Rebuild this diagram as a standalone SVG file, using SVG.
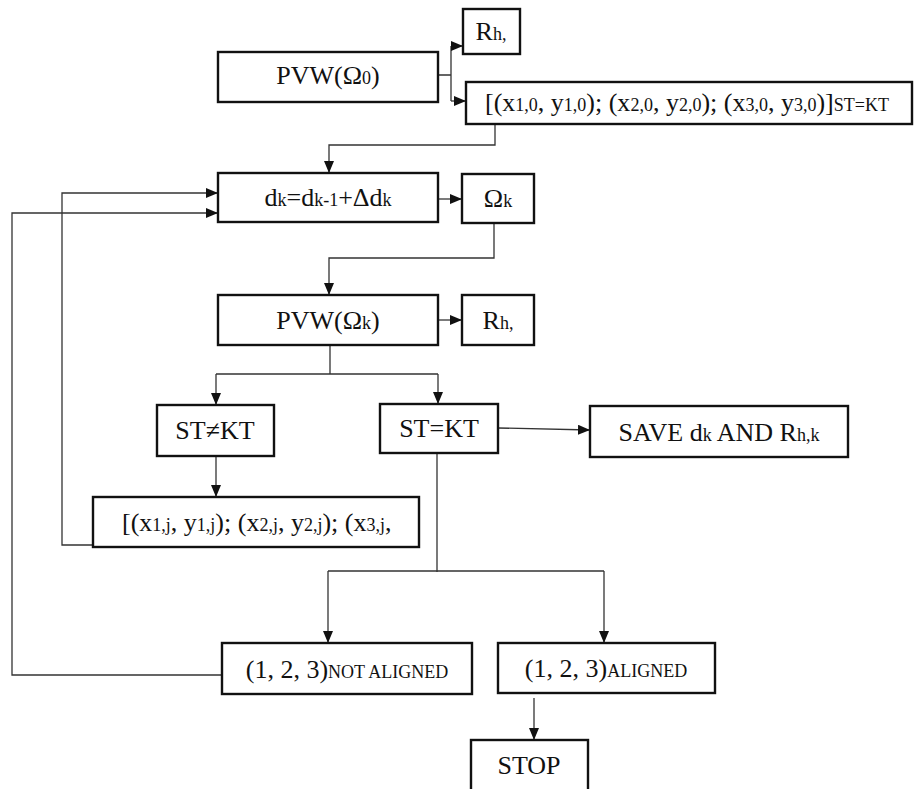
<svg xmlns="http://www.w3.org/2000/svg" width="914" height="789" viewBox="0 0 914 789">
<style>
.box{fill:#fff;stroke:#111;stroke-width:2.4}
.ln{fill:none;stroke:#333;stroke-width:1.3}
text{font-family:"Liberation Serif","Times New Roman",serif;font-size:26px;fill:#111}
.c{text-anchor:middle}
.s{font-size:18px}
</style>
<defs>
<marker id="a" viewBox="0 0 12 10" refX="12" refY="5" markerWidth="12" markerHeight="10" markerUnits="userSpaceOnUse" orient="auto">
<path d="M0,0 L12,5 L0,10 Z" fill="#111"/>
</marker>
</defs>
<rect width="914" height="789" fill="#fff"/>
<g id="connectors">
<path class="ln" d="M438,75 H451 M451,46 V101"/>
<path class="ln" d="M451,46 H463" marker-end="url(#a)"/>
<path class="ln" d="M451,101 H466" marker-end="url(#a)"/>
<path class="ln" d="M495,124 V145 H329 V173" marker-end="url(#a)"/>
<path class="ln" d="M438,199 H462" marker-end="url(#a)"/>
<path class="ln" d="M494,223 V258 H329 V295" marker-end="url(#a)"/>
<path class="ln" d="M438,320 H462" marker-end="url(#a)"/>
<path class="ln" d="M330,345 V374 M216,374 H438"/>
<path class="ln" d="M216,374 V405" marker-end="url(#a)"/>
<path class="ln" d="M438,374 V404" marker-end="url(#a)"/>
<path class="ln" d="M498,428 L590,430" marker-end="url(#a)"/>
<path class="ln" d="M216,456 V497" marker-end="url(#a)"/>
<path class="ln" d="M93,545 H62 V193 H218" marker-end="url(#a)"/>
<path class="ln" d="M437,453 V572 M328,571 H604"/>
<path class="ln" d="M328,571 V643" marker-end="url(#a)"/>
<path class="ln" d="M604,571 V643" marker-end="url(#a)"/>
<path class="ln" d="M222,675 H12 V213 H218" marker-end="url(#a)"/>
<path class="ln" d="M534,698 V740" marker-end="url(#a)"/>
</g>
<g id="rh0"><rect class="box" x="463" y="9" width="57" height="45"/><text class="c" x="491" y="40">R<tspan class="s">h,</tspan></text></g>
<g id="pvw0"><rect class="box" x="218" y="52" width="220" height="50"/><text class="c" x="328" y="84">PVW(Ω<tspan class="s">0</tspan>)</text></g>
<g id="coords0"><rect class="box" x="466" y="82" width="446" height="42"/><text x="485" y="111">[(x<tspan class="s">1,0</tspan>, y<tspan class="s">1,0</tspan>); (x<tspan class="s">2,0</tspan>, y<tspan class="s">2,0</tspan>); (x<tspan class="s">3,0</tspan>, y<tspan class="s">3,0</tspan>)]<tspan class="s">ST=KT</tspan></text></g>
<g id="dk"><rect class="box" x="218" y="173" width="220" height="49"/><text class="c" x="328" y="206">d<tspan class="s">k</tspan>=d<tspan class="s">k-1</tspan>+Δd<tspan class="s">k</tspan></text></g>
<g id="omegak"><rect class="box" x="462" y="174" width="72" height="49"/><text class="c" x="498" y="207">Ω<tspan class="s">k</tspan></text></g>
<g id="pvwk"><rect class="box" x="218" y="295" width="220" height="50"/><text class="c" x="328" y="329">PVW(Ω<tspan class="s">k</tspan>)</text></g>
<g id="rhk"><rect class="box" x="462" y="295" width="72" height="50"/><text class="c" x="498" y="329">R<tspan class="s">h,</tspan></text></g>
<g id="stnekt"><rect class="box" x="157" y="405" width="117" height="51"/><text class="c" x="215" y="439">ST≠KT</text></g>
<g id="steqkt"><rect class="box" x="380" y="404" width="118" height="49"/><text class="c" x="439" y="437">ST=KT</text></g>
<g id="save"><rect class="box" x="590" y="406" width="258" height="51"/><text class="c" x="719" y="441">SAVE d<tspan class="s">k</tspan> AND R<tspan class="s">h,k</tspan></text></g>
<g id="coordsj"><rect class="box" x="93" y="497" width="326" height="50"/><text x="122" y="531">[(x<tspan class="s">1,j</tspan>, y<tspan class="s">1,j</tspan>); (x<tspan class="s">2,j</tspan>, y<tspan class="s">2,j</tspan>); (x<tspan class="s">3,j</tspan>,</text></g>
<g id="notaligned"><rect class="box" x="222" y="643" width="250" height="51"/><text class="c" x="347" y="678">(1, 2, 3)<tspan class="s">NOT ALIGNED</tspan></text></g>
<g id="aligned"><rect class="box" x="498" y="643" width="217" height="50"/><text class="c" x="606" y="677">(1, 2, 3)<tspan class="s">ALIGNED</tspan></text></g>
<g id="stop"><rect class="box" x="471" y="740" width="117" height="60"/><text class="c" x="529" y="774">STOP</text></g>
</svg>
